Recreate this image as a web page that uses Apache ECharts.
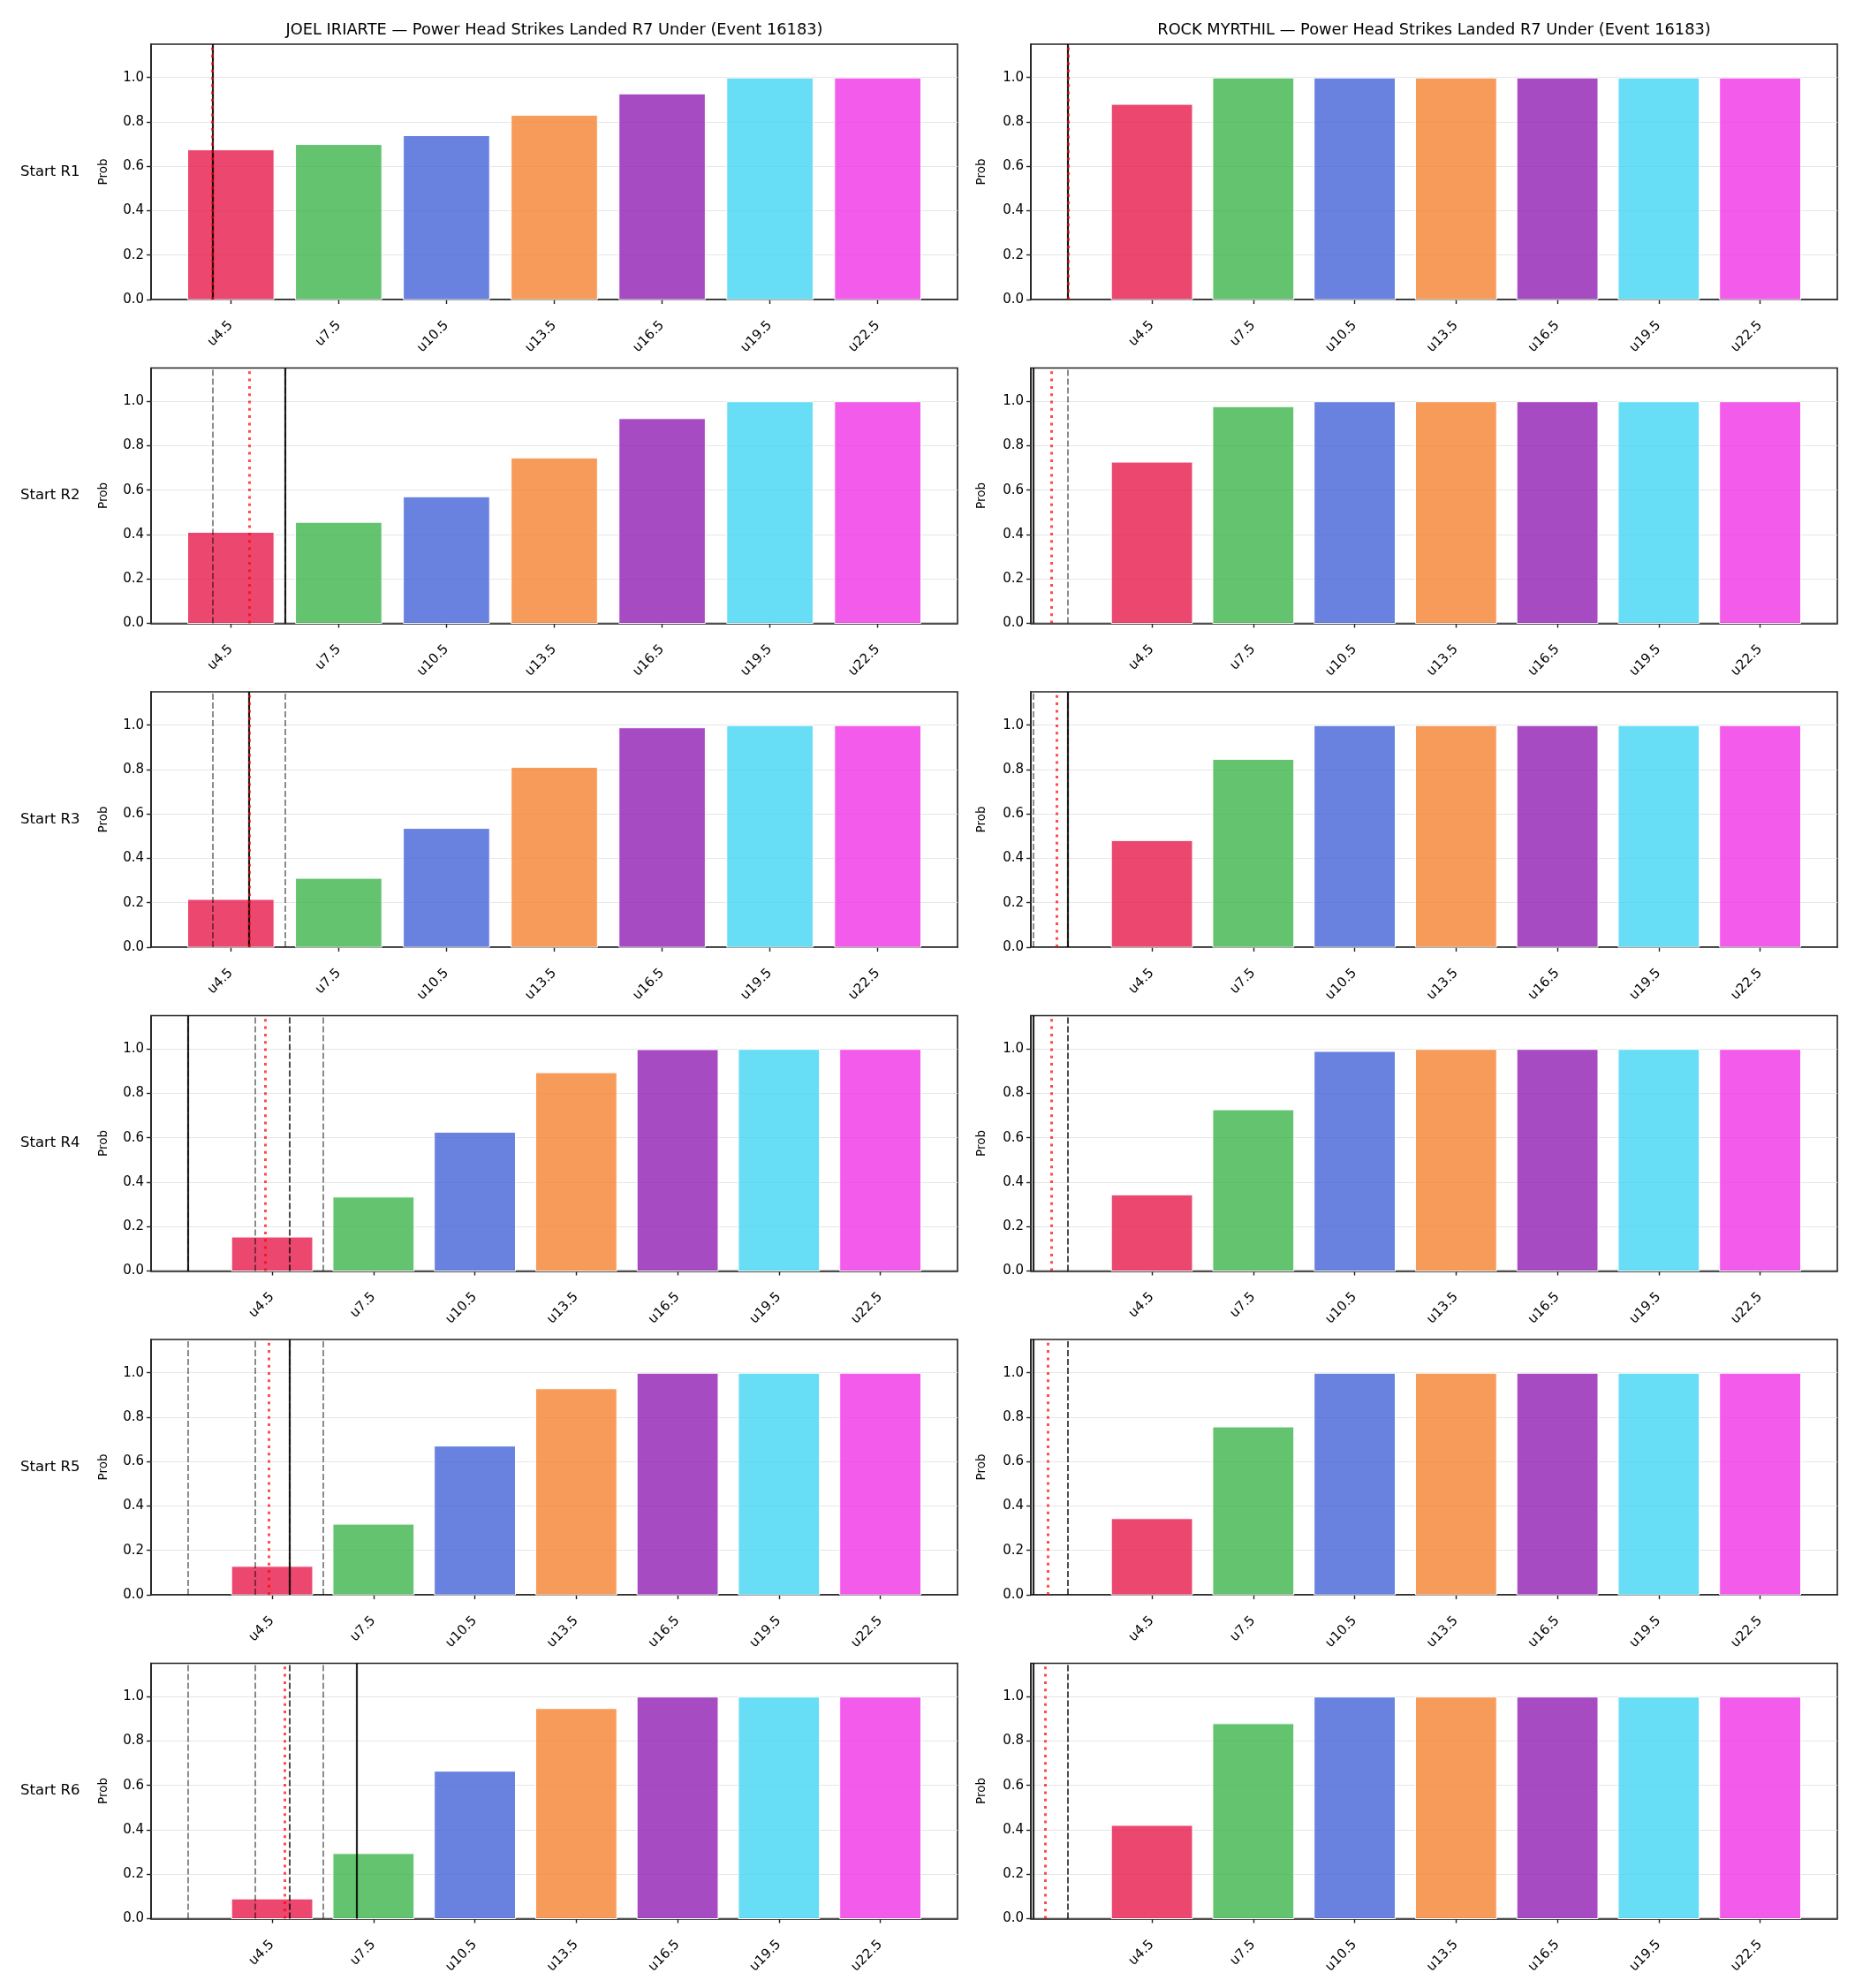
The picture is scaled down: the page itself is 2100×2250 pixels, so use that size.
<!DOCTYPE html>
<html lang="en">
<head>
<meta charset="UTF-8">
<title>Power Head Strikes Landed R7 Under</title>
<script src="https://cdn.jsdelivr.net/npm/echarts@6/dist/echarts.min.js"></script>
<style>html,body{margin:0;padding:0;background:#fff;}</style>
</head>
<body>
<div id="main" style="width:2100px;height:2250px;"></div>
<script>
// under lines (bar categories)
var lines = ['u4.5', 'u7.5', 'u10.5', 'u13.5', 'u16.5', 'u19.5', 'u22.5'];
var fighters = ['JOEL IRIARTE', 'ROCK MYRTHIL'];
var rows = ['Start R1', 'Start R2', 'Start R3', 'Start R4', 'Start R5', 'Start R6'];
var yTicks = [0, 0.2, 0.4, 0.6, 0.8, 1.0];

// P(under) for each line, one row per start round
var iriarteProb = [
  [0.674, 0.698, 0.738, 0.830, 0.926, 0.998, 0.998],
  [0.410, 0.455, 0.570, 0.745, 0.922, 0.998, 0.998],
  [0.215, 0.310, 0.535, 0.810, 0.988, 0.998, 0.998],
  [0.153, 0.333, 0.625, 0.893, 0.997, 0.998, 0.998],
  [0.128, 0.318, 0.670, 0.928, 0.998, 0.998, 0.998],
  [0.089, 0.293, 0.664, 0.946, 0.998, 0.998, 0.998]
];
var myrthilProb = [
  [0.879, 0.998, 0.998, 0.998, 0.998, 0.998, 0.998],
  [0.726, 0.976, 0.998, 0.998, 0.998, 0.998, 0.998],
  [0.480, 0.846, 0.998, 0.998, 0.998, 0.998, 0.998],
  [0.343, 0.726, 0.989, 0.998, 0.998, 0.998, 0.998],
  [0.343, 0.756, 0.998, 0.998, 0.998, 0.998, 0.998],
  [0.420, 0.878, 0.998, 0.998, 0.998, 0.998, 0.998]
];

// marker lines, in strikes: solid, dotted red, dashed
var iriarteSolid = [4, 6, 5, 2, 5, 7];
var iriarteMean = [4, 5, 5, 4.3, 4.41, 4.87];
var iriarteDash = [[4], [4, 6], [4, 5, 6], [2, 4, 5, 5, 6], [2, 4, 5, 6], [2, 4, 5, 5, 6]];
var myrthilSolid = [2, 1, 2, 1, 1, 1];
var myrthilMean = [2, 1.54, 1.68, 1.52, 1.42, 1.36];
var myrthilDash = [[2], [2], [1, 2], [2, 2], [2, 2], [2, 2]];

// left data limit of each panel in bar-index units
var iriarteFloor = [-0.4, -0.4, -0.4, -0.833, -0.833, -0.833];
var myrthilFloor = [-0.833, -0.833, -0.833, -0.833, -0.833, -0.833];

var colors = ['rgba(230,25,75,0.8)', 'rgba(60,180,75,0.8)', 'rgba(67,99,216,0.8)',
  'rgba(245,130,49,0.8)', 'rgba(145,30,180,0.8)', 'rgba(66,212,244,0.8)', 'rgba(240,50,230,0.8)'];

function toIdx(v) { return (v - 4.5) / 3; }

var FONT = 'DejaVu Sans';
var colLeft = [171, 1167];
var gridW = 913;
var gridH = 289;
var tops = [50, 416.5, 783, 1149.5, 1516, 1882.5];
var ylabX = [117, 1111];

var myChart = echarts.init(document.getElementById('main'));

var grid = [], xAxis = [], yAxis = [], series = [], graphic = [];

var sets = [
  { prob: iriarteProb, solid: iriarteSolid, mean: iriarteMean, dash: iriarteDash, floor: iriarteFloor },
  { prob: myrthilProb, solid: myrthilSolid, mean: myrthilMean, dash: myrthilDash, floor: myrthilFloor }
];

function markSeries(k, vals, style, z) {
  return {
    type: 'line', xAxisIndex: k, yAxisIndex: k, data: [], z: z,
    markLine: {
      silent: true, symbol: ['none', 'none'], label: { show: false },
      lineStyle: style,
      emphasis: { disabled: true },
      data: vals.map(function (v) { return { xAxis: toIdx(v) }; })
    }
  };
}

for (var c = 0; c < 2; c++) {
  var s = sets[c];
  graphic.push({
    type: 'text', x: colLeft[c] + gridW / 2, y: 34,
    style: { text: fighters[c] + ' \u2014 Power Head Strikes Landed R7 Under (Event 16183)',
      font: '17.8px "' + FONT + '"', fill: '#000', align: 'center', verticalAlign: 'middle' }
  });
  for (var r = 0; r < 6; r++) {
    var k = grid.length;
    var lo = s.floor[r], hi = 6.4, m = 0.05 * (hi - lo);
    grid.push({ left: colLeft[c], top: tops[r], width: gridW, height: gridH,
      show: true, borderColor: '#222', borderWidth: 1.6, backgroundColor: 'transparent' });
    xAxis.push({
      type: 'value', gridIndex: k, min: lo - m, max: hi + m,
      axisLine: { show: true, onZero: false, lineStyle: { color: '#222', width: 1.6 } },
      axisTick: { show: true, length: 5, lineStyle: { color: '#222', width: 1.4 }, customValues: [0, 1, 2, 3, 4, 5, 6] },
      axisLabel: { customValues: [0, 1, 2, 3, 4, 5, 6], rotate: 45, margin: 27,
        fontFamily: FONT, fontSize: 15, color: '#000',
        formatter: function (v) { return lines[Math.round(v)]; } },
      splitLine: { show: false }
    });
    yAxis.push({
      type: 'value', gridIndex: k, min: 0, max: 1.15, interval: 0.2,
      axisLine: { show: true, onZero: false, lineStyle: { color: '#222', width: 1.6 } },
      axisTick: { show: true, length: 5, lineStyle: { color: '#222', width: 1.4 }, customValues: yTicks },
      axisLabel: { customValues: yTicks, margin: 8, fontFamily: FONT, fontSize: 15, color: '#000',
        formatter: function (v) { return v.toFixed(1); } },
      splitLine: { show: true, lineStyle: { color: '#e6e6e6', width: 1.2 } }
    });
    var vals = s.prob[r];
    series.push({
      type: 'custom', xAxisIndex: k, yAxisIndex: k, z: 2,
      data: vals.map(function (v, i) { return [i, v]; }),
      encode: { x: 0, y: 1 },
      renderItem: function (params, api) {
        var i = api.value(0), v = api.value(1);
        var p0 = api.coord([i - 0.4, v]);
        var p1 = api.coord([i + 0.4, 0]);
        return { type: 'rect',
          shape: { x: p0[0], y: p0[1], width: p1[0] - p0[0], height: p1[1] - p0[1] },
          style: { fill: colors[i], stroke: '#fff', lineWidth: 1 } };
      }
    });
    series.push(markSeries(k, s.dash[r], { color: 'rgba(0,0,0,0.5)', width: 1.8, type: [7, 3] }, 3));
    series.push(markSeries(k, [s.solid[r]], { color: 'rgba(0,0,0,0.85)', width: 2.2, type: 'solid' }, 4));
    series.push(markSeries(k, [s.mean[r]], { color: 'rgba(255,0,0,0.7)', width: 3, type: [3, 5.3] }, 5));

    graphic.push({
      type: 'text', x: ylabX[c], y: tops[r] + gridH / 2, rotation: Math.PI / 2,
      style: { text: 'Prob', font: '13.5px "' + FONT + '"', fill: '#000', align: 'center', verticalAlign: 'middle' }
    });
    if (c === 0) {
      graphic.push({
        type: 'text', x: 23, y: tops[r] + gridH / 2,
        style: { text: rows[r], font: '16.5px "' + FONT + '"', fill: '#000', align: 'left', verticalAlign: 'middle' }
      });
    }
  }
}

myChart.setOption({
  backgroundColor: '#fff',
  animation: false,
  grid: grid,
  xAxis: xAxis,
  yAxis: yAxis,
  series: series,
  graphic: graphic
});
</script>
</body>
</html>
